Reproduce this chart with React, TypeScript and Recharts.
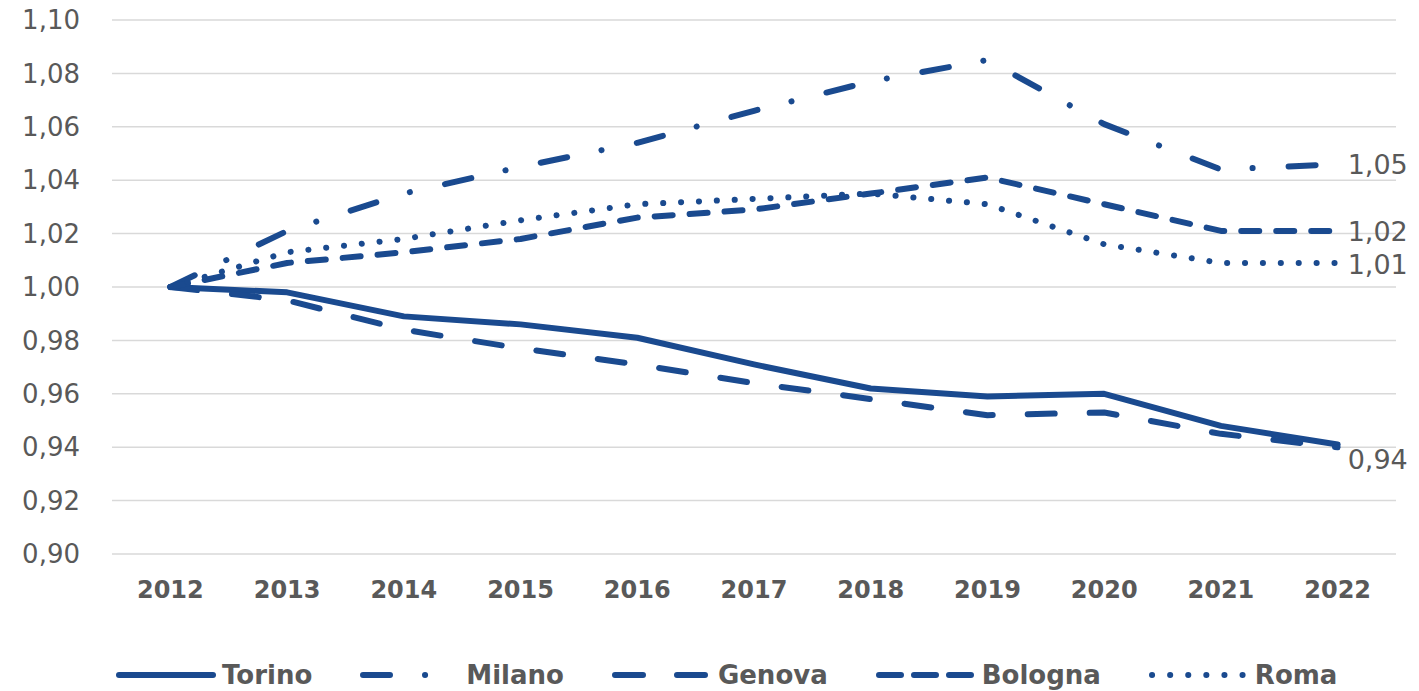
import React from 'react';
import { LineChart, Line, XAxis, YAxis, CartesianGrid, Legend, LabelList } from 'recharts';

const YEARS = ['2012', '2013', '2014', '2015', '2016', '2017', '2018', '2019', '2020', '2021', '2022'];
const TORINO = [1.0, 0.998, 0.989, 0.986, 0.981, 0.971, 0.962, 0.959, 0.96, 0.948, 0.941];
const MILANO = [1.0, 1.021, 1.035, 1.045, 1.054, 1.066, 1.077, 1.085, 1.061, 1.044, 1.046];
const GENOVA = [1.0, 0.995, 0.984, 0.977, 0.971, 0.964, 0.958, 0.952, 0.953, 0.945, 0.94];
const BOLOGNA = [1.0, 1.009, 1.013, 1.018, 1.026, 1.029, 1.035, 1.041, 1.031, 1.021, 1.021];
const ROMA = [1.0, 1.013, 1.018, 1.025, 1.031, 1.033, 1.035, 1.031, 1.016, 1.009, 1.009];
const Y_TICKS = [0.9, 0.92, 0.94, 0.96, 0.98, 1.0, 1.02, 1.04, 1.06, 1.08, 1.1];

const data = YEARS.map((year, i) => ({
  year,
  Torino: TORINO[i],
  Milano: MILANO[i],
  Genova: GENOVA[i],
  Bologna: BOLOGNA[i],
  Roma: ROMA[i],
}));

const BLUE = '#1a4a8f';
const GRAY_TEXT = '#595959';
const GRID = '#d9d9d9';
const FONT = '"DejaVu Sans", sans-serif';

const fmt = (v: number) => v.toFixed(2).replace('.', ',');

const SERIES = [
  { key: 'Torino', dash: undefined as string | undefined, legendDash: undefined as string | undefined, labelDy: null as number | null },
  { key: 'Milano', dash: '27 35 0.1 36', legendDash: '27 35 0.1 36', labelDy: 0 },
  { key: 'Genova', dash: '27 35', legendDash: '28 34', labelDy: 12 },
  { key: 'Bologna', dash: '18 17', legendDash: '22 13', labelDy: 0 },
  { key: 'Roma', dash: '0.1 17.8', legendDash: '0.1 18', labelDy: 1 },
];

const makeEndLabel = (dy: number) => (props: any) => {
  const { x, y, value, index } = props;
  if (index !== YEARS.length - 1) return null;
  return (
    <text x={Number(x) + 10} y={Number(y) + dy} dy="0.36em" fill={GRAY_TEXT} fontSize={27} fontFamily={FONT}>
      {fmt(Number(value))}
    </text>
  );
};

const LegendContent = () => (
  <div style={{ display: 'flex', alignItems: 'center', paddingLeft: 116, gap: 48, height: 34 }}>
    {SERIES.map((s) => (
      <div key={s.key} style={{ display: 'flex', alignItems: 'center' }}>
        <svg width={100} height={12}>
          <line
            x1={3}
            x2={97}
            y1={6}
            y2={6}
            stroke={BLUE}
            strokeWidth={6}
            strokeLinecap="round"
            strokeDasharray={s.legendDash}
          />
        </svg>
        <span style={{ marginLeft: 6, fontFamily: FONT, fontWeight: 'bold', fontSize: 26, color: GRAY_TEXT }}>{s.key}</span>
      </div>
    ))}
  </div>
);

const EDGE_TICKS = Array.from({ length: YEARS.length + 1 }, (_, i) => i);

export default function App() {
  return (
    <div style={{ position: 'absolute', left: 0, top: 0, background: '#fff' }}>
      <LineChart width={1419} height={691} data={data} margin={{ top: 20, right: 23, bottom: 43, left: 0 }}>
        <CartesianGrid vertical={false} stroke={GRID} strokeWidth={1.5} xAxisId="cat" />
        <XAxis
          xAxisId="edge"
          type="number"
          domain={[0, YEARS.length]}
          ticks={EDGE_TICKS}
          allowDataOverflow
          tick={false}
          tickSize={7}
          height={0}
          axisLine={{ stroke: GRID, strokeWidth: 1.5 }}
          tickLine={{ stroke: GRID, strokeWidth: 1.5 }}
        />
        <XAxis
          xAxisId="cat"
          dataKey="year"
          scale="band"
          interval={0}
          axisLine={false}
          tickLine={false}
          tickSize={0}
          tickMargin={27}
          height={60}
          tick={{ fill: GRAY_TEXT, fontSize: 24, fontWeight: 'bold', fontFamily: FONT }}
        />
        <YAxis
          domain={[0.9, 1.1]}
          ticks={Y_TICKS}
          tickFormatter={fmt}
          axisLine={false}
          tickLine={false}
          tickSize={0}
          tickMargin={32}
          width={112}
          tick={{ fill: GRAY_TEXT, fontSize: 26, fontFamily: FONT }}
        />
        {SERIES.map((s) => (
          <Line
            key={s.key}
            xAxisId="cat"
            dataKey={s.key}
            type="linear"
            stroke={BLUE}
            strokeWidth={6}
            strokeLinecap="round"
            strokeLinejoin="round"
            strokeDasharray={s.dash}
            dot={false}
            activeDot={false}
            isAnimationActive={false}
          >
            {s.labelDy !== null && <LabelList dataKey={s.key} content={makeEndLabel(s.labelDy)} />}
          </Line>
        ))}
        <Legend content={<LegendContent />} wrapperStyle={{ position: 'absolute', left: 0, top: 658, width: 1419, bottom: 'auto' }} />
      </LineChart>
    </div>
  );
}
